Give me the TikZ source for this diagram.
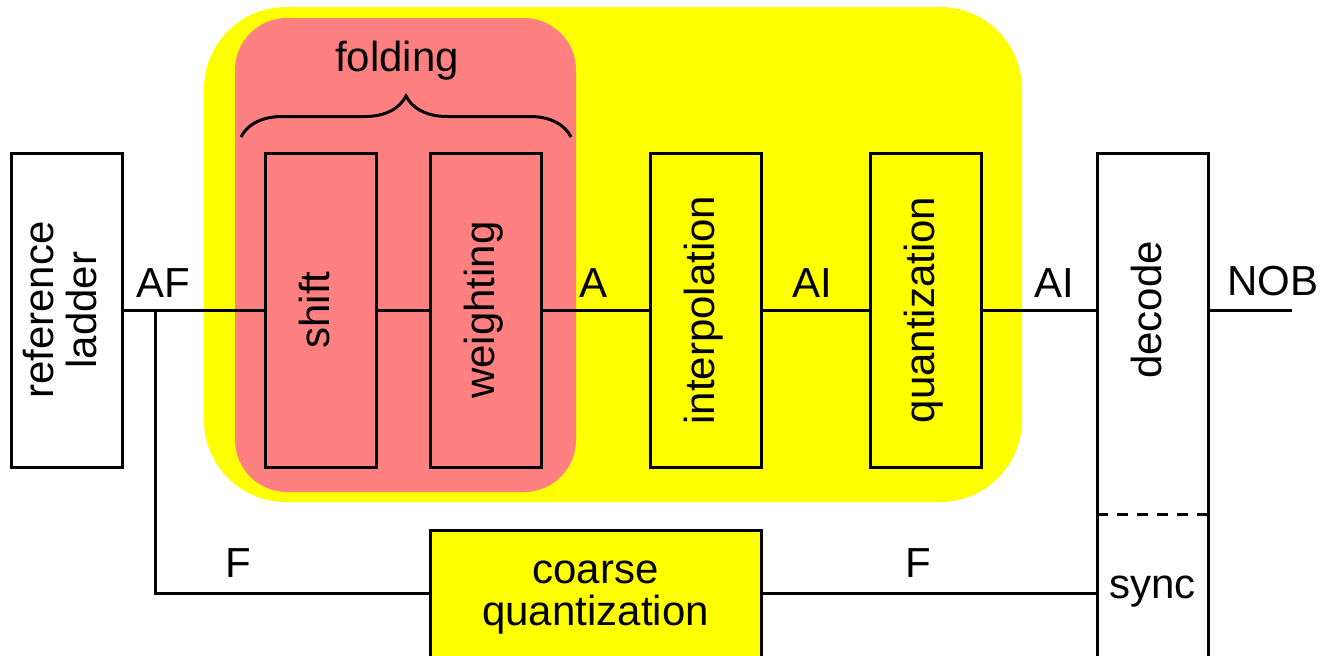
\documentclass[tikz,border=0pt]{standalone}
\usepackage{fontspec}
\setsansfont{Liberation Sans}
\usetikzlibrary{positioning, decorations.pathreplacing}

\definecolor{foldred}{RGB}{255,128,128}
\definecolor{stageyellow}{RGB}{255,255,0}
\newcommand{\vtext}[1]{\rotatebox{90}{\begin{tabular}{@{}c@{}}#1\end{tabular}}}

\begin{document}
\begin{tikzpicture}[x=0.5pt, y=-0.5pt, line width=1.5pt, every node/.style={font=\sffamily\fontsize{21}{21}\selectfont}, align=center,
        stage/.style={rectangle, draw, minimum width=55.5pt, minimum height=157pt, inner sep=0pt, outer sep=0pt}]
    \useasboundingbox (0,0) rectangle (1323,655);
    \clip (0,0) rectangle (1323,655);

    % Fine converter background
    \fill[stageyellow, rounded corners=41pt] (204,7) rectangle (1022,502);
    \fill[foldred, rounded corners=26pt] (235,18) rectangle (576,492);

    % Main chain
    \node (ladder) [stage, fill=white] at (66.5,310) {\vtext{reference\\ladder}};
    \node (shift) [stage, fill=foldred, right=71.5pt of ladder] {\vtext{shift}};
    \node (weighting) [stage, fill=foldred, right=27pt of shift] {\vtext{weighting}};
    \node (interp) [stage, fill=stageyellow, right=54.5pt of weighting] {\vtext{interpolation}};
    \node (quant) [stage, fill=stageyellow, right=54.5pt of interp] {\vtext{quantization}};
    \node (decode) [stage, fill=white, minimum height=263pt, right=58pt of quant.north east, anchor=north west] {};
    \node (decodetext) at (decode |- quant) {\vtext{decode}};
    \node (sync) [anchor=base] at (1152.5,598) {sync};

    % Coarse path
    \node (coarse) [rectangle, draw, fill=stageyellow, minimum width=165.5pt, minimum height=68pt, inner sep=0pt] at (595.5,598) {coarse\\quantization};

    % Folding brace
    \draw[decorate, decoration={brace, amplitude=20.5pt}] (241,137) -- (571,137);
    \node (folding) [anchor=base] at (397,71) {folding};

    % Connections
    \coordinate (split) at (155,310);
    \coordinate (nob) at (1292,310);
    \coordinate (fpath) at (0,593);
    \coordinate (syncsplit) at (0,514);
    \draw (ladder) -- (shift);
    \draw (shift) -- (weighting);
    \draw (weighting) -- (interp);
    \draw (interp) -- (quant);
    \draw (quant) -- (quant -| decode.west);
    \draw (nob -| decode.east) -- (nob);
    \draw (split) |- (coarse.west |- fpath);
    \draw (coarse.east |- fpath) -- (decode.west |- fpath);
    \draw[dash pattern=on 5.5pt off 4.5pt] (decode.west |- syncsplit) -- (decode.east |- syncsplit);

    % Signal labels
    \node (afl) [anchor=base] at (163,297) {AF};
    \node (al) [anchor=base] at (594,297) {A};
    \node (ail) [anchor=base] at (812,297) {AI};
    \node (ailout) [anchor=base] at (1054,297) {AI};
    \node (nobl) [anchor=base] at (1273,295) {NOB};
    \node (fl) [anchor=base] at (238,577) {F};
    \node (flout) [anchor=base] at (918,577) {F};
\end{tikzpicture}
\end{document}
